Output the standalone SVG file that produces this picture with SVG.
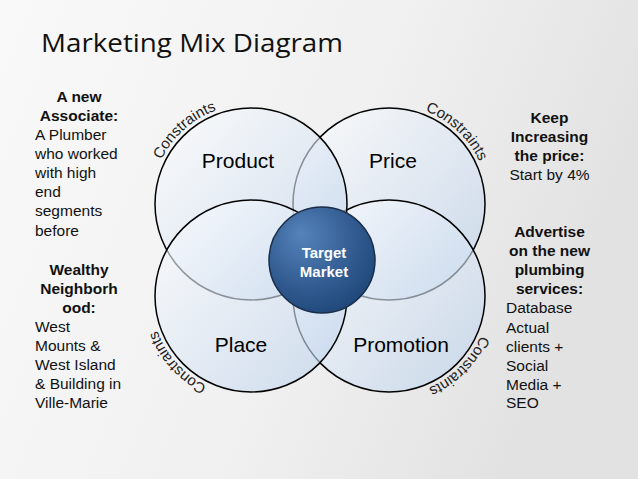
<svg xmlns="http://www.w3.org/2000/svg" width="638" height="479" viewBox="0 0 638 479">
<defs>
<linearGradient id="bg" x1="0" y1="0" x2="1" y2="0.3">
<stop offset="0" stop-color="#f9f9f9"/>
<stop offset="0.6" stop-color="#f0f0f0"/>
<stop offset="1" stop-color="#e2e2e2"/>
</linearGradient>
<linearGradient id="cg" x1="0" y1="0" x2="1" y2="1">
<stop offset="0" stop-color="#ffffff"/>
<stop offset="1" stop-color="#b8cfeb"/>
</linearGradient>
<radialGradient id="tg" cx="0.4" cy="0.35" r="0.7" fx="0.3" fy="0.25">
<stop offset="0" stop-color="#5583bb"/>
<stop offset="1" stop-color="#1e4679"/>
</radialGradient>
<path id="arcTL" d="M158.95,164.93 A100,100 0 0 1 221.76,108.37"/>
<path id="arcTR" d="M419.90,108.89 A100,100 0 0 1 481.72,166.54"/>
<path id="arcBL" d="M211.93,388.05 A100,100 0 0 1 155.37,325.24"/>
<path id="arcBR" d="M482.97,330.20 A100,100 0 0 1 423.20,389.97"/>
</defs>
<style>
.c{fill:url(#cg);fill-opacity:0.62;stroke:#000;stroke-width:1.5}
.lbl{font-family:"Liberation Sans",Arial,sans-serif;font-size:21px;fill:#000;text-anchor:middle}
.con{font-family:"Liberation Sans",Arial,sans-serif;font-size:15px;fill:#222}
.nb{font-family:"Liberation Sans",Arial,sans-serif;font-size:15.5px;font-weight:bold;fill:#111;text-anchor:middle}
.nt{font-family:"Liberation Sans",Arial,sans-serif;font-size:15.5px;fill:#111}
</style>
<rect width="638" height="479" fill="url(#bg)"/>
<text x="41" y="52" font-family="'Open Sans',Lato,sans-serif" font-size="25" fill="#111" textLength="302" lengthAdjust="spacingAndGlyphs">Marketing Mix Diagram</text>
<g id="price">
<circle class="c" cx="389" cy="204" r="96"/>
<text class="lbl" x="393" y="168">Price</text>
</g>
<g id="promotion">
<circle class="c" cx="389" cy="296" r="96"/>
<text class="lbl" x="401" y="352">Promotion</text>
</g>
<g id="product">
<circle class="c" cx="251" cy="204" r="96"/>
<text class="lbl" x="238" y="168">Product</text>
</g>
<g id="place">
<circle class="c" cx="251" cy="296" r="96"/>
<text class="lbl" x="241" y="352">Place</text>
</g>
<g id="target">
<circle cx="322" cy="260" r="53" fill="url(#tg)" stroke="#1a2d48" stroke-width="1.5"/>
<text x="324" y="258" font-family="'Liberation Sans',Arial,sans-serif" font-size="15" font-weight="bold" fill="#fff" text-anchor="middle">Target</text>
<text x="324" y="277" font-family="'Liberation Sans',Arial,sans-serif" font-size="15" font-weight="bold" fill="#fff" text-anchor="middle">Market</text>
</g>
<g id="constraints">
<text class="con"><textPath href="#arcTL" startOffset="50%" text-anchor="middle">Constraints</textPath></text>
<text class="con"><textPath href="#arcTR" startOffset="50%" text-anchor="middle">Constraints</textPath></text>
<text class="con"><textPath href="#arcBL" startOffset="50%" text-anchor="middle">Constraints</textPath></text>
<text class="con"><textPath href="#arcBR" startOffset="50%" text-anchor="middle">Constraints</textPath></text>
</g>
<g id="note-left">
<text class="nb" x="79" y="102">A new</text>
<text class="nb" x="79" y="121">Associate:</text>
<text class="nt" x="35" y="140">A Plumber</text>
<text class="nt" x="35" y="159">who worked</text>
<text class="nt" x="35" y="178">with high</text>
<text class="nt" x="35" y="197">end</text>
<text class="nt" x="35" y="216">segments</text>
<text class="nt" x="35" y="236">before</text>
<text class="nb" x="79" y="275">Wealthy</text>
<text class="nb" x="79" y="294">Neighborh</text>
<text class="nb" x="79" y="313">ood:</text>
<text class="nt" x="35" y="332">West</text>
<text class="nt" x="35" y="351">Mounts &amp;</text>
<text class="nt" x="35" y="370">West Island</text>
<text class="nt" x="35" y="389">&amp; Building in</text>
<text class="nt" x="35" y="408">Ville-Marie</text>
</g>
<g id="note-right">
<text class="nb" x="549.5" y="123">Keep</text>
<text class="nb" x="549.5" y="142">Increasing</text>
<text class="nb" x="549.5" y="161">the price:</text>
<text class="nt" x="549.5" y="180" text-anchor="middle">Start by 4%</text>
<text class="nb" x="549.5" y="237">Advertise</text>
<text class="nb" x="549.5" y="256">on the new</text>
<text class="nb" x="549.5" y="275">plumbing</text>
<text class="nb" x="549.5" y="294">services:</text>
<text class="nt" x="506" y="313">Database</text>
<text class="nt" x="506" y="333">Actual</text>
<text class="nt" x="506" y="352">clients +</text>
<text class="nt" x="506" y="371">Social</text>
<text class="nt" x="506" y="390">Media +</text>
<text class="nt" x="506" y="408">SEO</text>
</g>
</svg>
